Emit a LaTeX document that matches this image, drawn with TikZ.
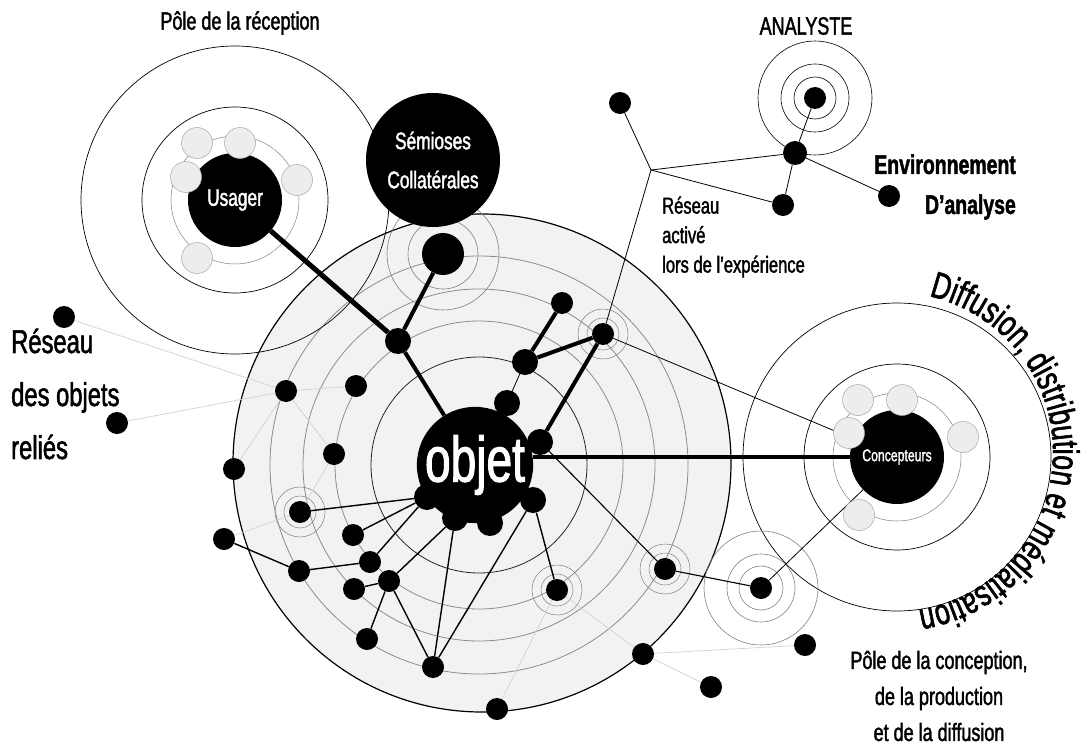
\documentclass[tikz,border=0pt]{standalone}
\usepackage{fontspec}
\setmainfont{Liberation Sans}[FakeStretch=0.72, FakeBold=1.6]
\usetikzlibrary{decorations.text}
\pgfdeclarelayer{back}
\pgfdeclarelayer{mid}
\pgfsetlayers{back,mid,main}
\tikzset{
  dot/.style={circle, fill=black, inner sep=0pt, minimum size=22pt},
  bumpdot/.style={dot, minimum size=26pt},
  sat/.style={circle, fill=black!7, draw=black!35, line width=0.5pt, inner sep=0pt, minimum size=31pt},
  hub/.style={circle, fill=black, text=white, inner sep=0pt, align=center},
  ringgrey/.style={draw=black!50, line width=0.6pt},
  ringblack/.style={draw=black, line width=0.7pt},
  linkfaint/.style={draw=black!18, line width=0.7pt},
  linkhair/.style={draw=black, line width=0.8pt},
  linkthin/.style={draw=black, line width=1.4pt},
  linkfat/.style={draw=black, line width=4pt},
  lbl/.style={inner sep=0pt, font=\fontsize{25}{36.5}\selectfont}
}
\begin{document}
\begin{tikzpicture}[x=1pt,y=-1pt]
\useasboundingbox (0,0) rectangle (1083,746);
\coordinate (disc) at (482,463);
\coordinate (rc) at (479,465);
\coordinate (br) at (651,170);
\coordinate (arcc) at (893,452);

% ---------- main nodes
\node[hub, minimum size=94pt, font=\fontsize{24}{28}\selectfont] (usager) at (235,200) {Usager};
\node[hub, minimum size=134pt, font=\fontsize{24}{39}\selectfont] (semio) at (433,160) {Sémioses\\Collatérales};
\node[dot, minimum size=42pt] (semsmall) at (443,254) {};
\node[bumpdot] (j1) at (398,341) {};
\node[hub, minimum size=116pt, font=\fontsize{64}{64}\selectfont] (objet) at (475,465) {objet};
\node[bumpdot] (b1) at (507,403) {};
\node[bumpdot] (b2) at (540,442) {};
\node[bumpdot] (b3) at (427,497) {};
\node[bumpdot] (b4) at (533,500) {};
\node[bumpdot] (b5) at (455,518) {};
\node[bumpdot] (b6) at (490,523) {};
\node[dot] (nA) at (562,303) {};
\node[bumpdot] (nB) at (525,362) {};
\node[dot] (nC) at (603,334) {};
\node[hub, minimum size=94pt, font=\fontsize{17}{20}\selectfont] (concept) at (897,457) {Concepteurs};

% satellites
\node[sat] (us1) at (197,143) {};
\node[sat] (us2) at (240,143) {};
\node[sat] (us3) at (186,177) {};
\node[sat] (us4) at (297,180) {};
\node[sat] (us5) at (197,258) {};
\node[sat] (cs1) at (858,400) {};
\node[sat] (cs2) at (902,400) {};
\node[sat] (cs3) at (849,433) {};
\node[sat] (cs4) at (963,437) {};
\node[sat] (cs5) at (859,515) {};

% analysis network
\node[dot] (nTop) at (620,103) {};
\node[dot, minimum size=24pt] (nE) at (795,153) {};
\node[dot] (nF) at (783,205) {};
\node[dot] (nG) at (889,196) {};
\node[dot] (nAn) at (815,98) {};

% related objects network
\node[dot] (nL1) at (64,317) {};
\node[dot] (nL2) at (117,423) {};
\node[dot] (nP1) at (286,391) {};
\node[dot] (nQ1) at (356,386) {};
\node[dot] (nQ2) at (334,454) {};
\node[dot] (nP2) at (234,469) {};
\node[dot] (nP3) at (300,512) {};
\node[dot] (nL3) at (224,539) {};
\node[dot] (nP4) at (299,571) {};
\node[dot] (nR1) at (353,535) {};
\node[dot] (nR2) at (370,562) {};
\node[dot] (nR3) at (354,589) {};
\node[dot] (nR4) at (389,581) {};
\node[dot] (nR5) at (367,639) {};
\node[dot] (nR6) at (433,667) {};
\node[dot] (nS1) at (557,590) {};
\node[dot] (nS2) at (665,569) {};
\node[dot] (nS3) at (761,588) {};
\node[dot] (nE1) at (643,654) {};
\node[dot] (nE2) at (497,709) {};
\node[dot] (nE3) at (711,687) {};
\node[dot] (nE4) at (805,645) {};

% ---------- background: disc and rings
\begin{pgfonlayer}{back}
  \fill[black!5] (disc) circle (249);
  \draw[line width=1.2pt] (disc) circle (249);
  \draw[draw=black!85, line width=0.8pt] (rc) circle (108);
  \draw[draw=black!45, line width=0.8pt] (rc) circle (144);
  \draw[draw=black!45, line width=0.8pt] (rc) circle (176);
  \draw[draw=black!45, line width=0.8pt] (rc) circle (209);
  % Usager rings
  \draw[ringgrey, line width=0.5pt] (usager) circle (64);
  \draw[ringblack] (usager) circle (93);
  \draw[ringblack] (usager) circle (154);
  % Concepteurs rings
  \draw[ringgrey, line width=0.5pt] (concept) circle (64);
  \draw[ringblack] (concept) circle (93);
  \draw[ringblack] (concept) circle (154);
  % node rings
  \draw[ringgrey] (semsmall) circle (35);
  \draw[ringgrey] (semsmall) circle (56);
  \draw[ringblack, line width=0.6pt] (nAn) circle (21);
  \draw[ringblack, line width=0.6pt] (nAn) circle (34);
  \draw[ringblack, line width=0.6pt] (nAn) circle (57);
  \draw[ringgrey] (nS3) circle (22);
  \draw[ringgrey] (nS3) circle (34);
  \draw[ringgrey] (nS3) circle (57);
  \foreach \n in {nC,nP3,nS1,nS2}{
    \draw[ringgrey, line width=0.5pt] (\n) circle (16);
    \draw[ringgrey, line width=0.5pt] (\n) circle (25);
  }
\end{pgfonlayer}

% ---------- connectors
\begin{pgfonlayer}{mid}
  % faint links
  \draw[linkfaint] (nL1) -- (nP1);
  \draw[linkfaint] (nL2) -- (nP1);
  \draw[linkfaint] (nP1) -- (nQ1);
  \draw[linkfaint] (nP1) -- (nQ2);
  \draw[linkfaint] (nP1) -- (nP2);
  \draw[linkfaint] (nQ2) -- (nP3);
  \draw[linkfaint] (nL3) -- (nP3);
  \draw[linkfaint] (nS1) -- (nE2);
  \draw[linkfaint] (nS1) -- (nE1);
  \draw[linkfaint] (nE1) -- (nE4);
  \draw[linkfaint] (nE1) -- (nE3);
  % thin links
  \draw[linkthin] (b3) -- (nP3);
  \draw[linkthin] (b3) -- (nR1);
  \draw[linkthin] (b3) -- (nR2);
  \draw[linkthin] (nL3) -- (nP4);
  \draw[linkthin] (nP4) -- (nR2);
  \draw[linkthin] (nR3) -- (nR4);
  \draw[linkthin] (b5) -- (nR4);
  \draw[linkthin] (nR4) -- (nR5);
  \draw[linkthin] (nR4) -- (nR6);
  \draw[linkthin] (b5) -- (nR6);
  \draw[linkthin] (b4) -- (nR6);
  \draw[linkthin] (b4) -- (nS1);
  \draw[linkthin, line width=1.1pt] (b2) -- (nS2);
  \draw[linkthin, line width=1.1pt] (nS2) -- (nS3);
  \draw[linkhair] (nS3) -- (concept);
  \draw[linkhair] (nB) -- (b1);
  \draw[linkhair] (nC) -- (concept);
  % analysis network
  \draw[linkhair] (br) -- (nC);
  \draw[linkhair] (br) -- (nTop);
  \draw[linkhair] (br) -- (nE);
  \draw[linkhair] (br) -- (nF);
  \draw[linkhair] (nE) -- (nAn);
  \draw[linkhair] (nE) -- (nF);
  \draw[linkhair] (nE) -- (nG);
  % thick links
  \draw[linkfat, line width=5pt] (usager) -- (j1);
  \draw[linkfat] (semsmall) -- (j1);
  \draw[linkfat] (j1) -- (objet);
  \draw[linkfat] (nB) -- (nA);
  \draw[linkfat] (nB) -- (nC);
  \draw[linkfat] (nC) -- (b2);
  \draw[linkfat] (objet.east |- concept.west) -- (concept.west);
\end{pgfonlayer}

% ---------- labels
\node[lbl] (tRec) at (240,23) {Pôle de la réception};
\node[lbl] (tAna) at (806,26) {ANALYSTE};
\node[lbl, anchor=east, align=right, font=\fontsize{27}{40}\selectfont\bfseries] (tEnv) at (1016,187) {Environnement\\D’analyse};
\node[lbl, anchor=west, align=left, font=\fontsize{23}{29.5}\selectfont] (tAct) at (662,237) {Réseau\\activé\\lors de l’expérience};
\node[lbl, anchor=west, align=left, font=\fontsize{33}{53}\selectfont] (tRes) at (11,394) {Réseau\\des objets\\reliés};
\node[lbl, align=center, font=\fontsize{25}{36}\selectfont] (tCon) at (939,696) {Pôle de la conception,\\de la production\\et de la diffusion};
\path[decorate, decoration={text along path, text align=left,
  text={|\fontsize{37}{37}\selectfont|Diffusion, distribution et médiatisation}}]
  (arcc) ++(-77:160) arc[start angle=-77, end angle=110, radius=160];
\end{tikzpicture}
\end{document}
